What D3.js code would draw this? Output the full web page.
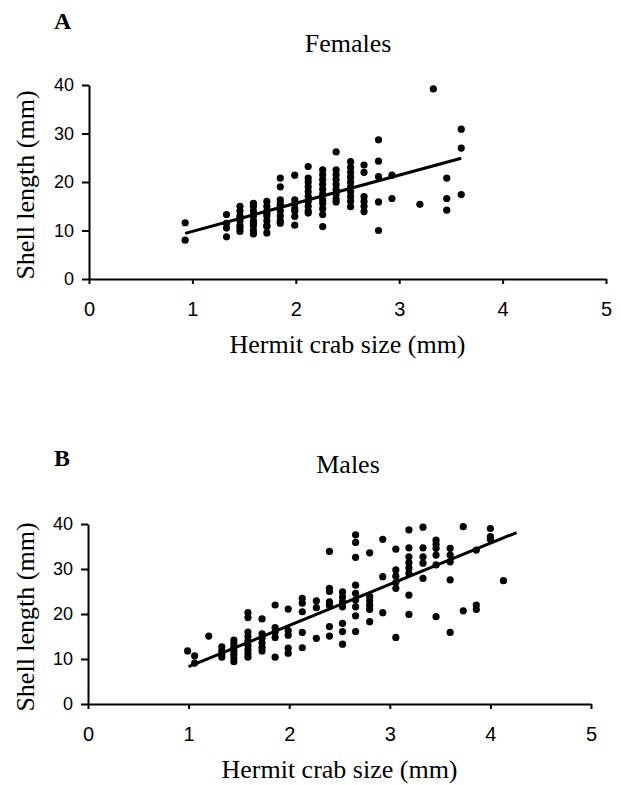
<!DOCTYPE html>
<html>
<head>
<meta charset="utf-8">
<script src="https://cdn.jsdelivr.net/npm/d3@7"></script>
<style>
  body { margin: 0; background: #fff; }
  svg { display: block; }
</style>
</head>
<body>
<svg id="chart" width="621" height="785"></svg>
<script>
// hermit crab size (mm) -> shell lengths (mm), grouped by size class
var femaleCols = [
	[0.93, [11.6, 8.0]],
	[1.33, [13.3, 11.5, 10.5, 8.7]],
	[1.46, [15, 14, 13, 12.5, 12, 11, 10.5, 9.8]],
	[1.59, [15.6, 15, 14, 13, 12, 11.5, 11, 10, 9.3]],
	[1.72, [16, 15, 14, 13.5, 13, 12, 11, 10.8, 9.5]],
	[1.85, [20.8, 19, 16.3, 15.5, 15, 14, 13, 12, 11.5]],
	[1.99, [21.4, 16.3, 15.5, 14.5, 14, 12.9, 11.1]],
	[2.12, [23.2, 20.8, 20, 19, 18, 17, 16, 15, 14, 13.6]],
	[2.26, [22.5, 21.5, 20.5, 19.5, 18.5, 17.5, 16.3, 15.6, 14.5, 13.3, 10.8]],
	[2.39, [26.2, 22.5, 21.5, 20.5, 19.5, 18.5, 17.5, 16.5, 15.9]],
	[2.53, [24.2, 23, 22, 21, 20, 19, 18, 17, 16, 14.9]],
	[2.66, [23.5, 22, 17, 16, 15, 13.9]],
	[2.80, [28.7, 24.3, 21.1, 15.9, 10]],
	[2.93, [21.4, 16.6]],
	[3.20, [15.4]],
	[3.33, [39.2]],
	[3.46, [20.8, 16.6, 14.2]],
	[3.60, [30.9, 27, 17.4]]
];

var maleCols = [
	[0.99, [11.8]],
	[1.06, [10.7, 9.1]],
	[1.20, [15.1]],
	[1.33, [12.7, 11.8, 11, 10.4]],
	[1.45, [14.2, 13.4, 12.6, 11.8, 11, 10.2, 9.4]],
	[1.59, [20.3, 19.2, 16, 15, 14, 13, 12, 11.2, 10.4]],
	[1.73, [18.9, 15.6, 14.6, 13.6, 12.6, 11.8]],
	[1.86, [22, 17, 16, 14.8, 10.4]],
	[1.99, [21.1, 16.3, 15.3, 12.4, 11.3]],
	[2.13, [23.5, 22.4, 20.5, 15.9, 12.5]],
	[2.27, [22.9, 21.4, 14.6]],
	[2.40, [33.9, 25.7, 25, 22.7, 21.9, 17.2, 15.1]],
	[2.53, [24.9, 23.8, 22.7, 21.6, 17.9, 16.1, 13.3]],
	[2.66, [37.6, 35.9, 32.6, 26.4, 24.6, 23.1, 21.6, 19.6, 16.1]],
	[2.80, [33.6, 23.9, 22.9, 21.9, 21, 18.3]],
	[2.93, [36.6, 28.3, 20.3]],
	[3.06, [34.4, 29.8, 28.4, 27, 25.7, 14.8]],
	[3.19, [38.7, 34.7, 32.7, 31.4, 30.2, 29, 24.2, 19.9]],
	[3.33, [39.3, 34.7, 32.7, 31.3, 27.9]],
	[3.46, [36.4, 35.5, 34.6, 33.1, 30.9, 19.4]],
	[3.60, [34.6, 33.1, 31.6, 27.6, 15.9]],
	[3.73, [39.4, 20.7]],
	[3.86, [34.2, 22, 21]],
	[4.00, [39, 37.2, 36.6]],
	[4.13, [27.4]]
];

// fitted lines: [size, shell] at both ends
var femaleFit = [[0.93, 9.4], [3.60, 24.9]];
var maleFit = [[1.0, 8.3], [4.26, 38.1]];

var xTicks = [0, 1, 2, 3, 4, 5];
var yTicks = [0, 10, 20, 30, 40];

var svg = d3.select("#chart");

function flatten(cols) {
	var pts = [];
	cols.forEach(function(c) {
		c[1].forEach(function(v) { pts.push([c[0], v]); });
	});
	return pts;
}

function styleAxis(size) {
	return function(a) {
		a.select(".domain").attr("stroke-width", 2);
		a.selectAll("line").attr("stroke-width", 2);
		a.selectAll("text").attr("font-family", "'Liberation Sans', Arial, sans-serif")
			.attr("font-size", size).attr("fill", "#000");
	};
}

function drawPanel(opt) {
	var x = d3.scaleLinear().domain([0, 5]).range([opt.left, opt.right]);
	var y = d3.scaleLinear().domain([0, 40]).range([opt.bottom, opt.top]);
	var g = svg.append("g");

	g.append("g")
		.attr("transform", "translate(0," + opt.bottom + ")")
		.call(d3.axisBottom(x).tickValues(xTicks).tickFormat(d3.format("d"))
			.tickSize(5).tickPadding(18).tickSizeOuter(0))
		.call(styleAxis(20));

	g.append("g")
		.attr("transform", "translate(" + opt.left + ",0)")
		.call(d3.axisLeft(y).tickValues(yTicks).tickFormat(d3.format("d"))
			.tickSize(7).tickPadding(8).tickSizeOuter(0))
		.call(styleAxis(18));

	g.selectAll("circle.pt")
		.data(flatten(opt.cols))
		.enter().append("circle")
		.attr("class", "pt")
		.attr("cx", function(d) { return x(d[0]); })
		.attr("cy", function(d) { return y(d[1]); })
		.attr("r", 3.6)
		.attr("fill", "#000");

	g.append("path")
		.datum(opt.fit)
		.attr("d", d3.line().x(function(d) { return x(d[0]); }).y(function(d) { return y(d[1]); }))
		.attr("stroke", "#000")
		.attr("stroke-width", 3)
		.attr("fill", "none");

	var serif = "'Liberation Serif', 'Times New Roman', serif";

	g.append("text")
		.attr("x", 54).attr("y", opt.letterY)
		.attr("font-family", serif).attr("font-weight", "bold").attr("font-size", 24)
		.text(opt.letter);

	g.append("text")
		.attr("x", 348).attr("y", opt.titleY)
		.attr("text-anchor", "middle")
		.attr("font-family", serif).attr("font-size", 26)
		.text(opt.title);

	g.append("text")
		.attr("x", (opt.left + opt.right) / 2).attr("y", opt.bottom + 74)
		.attr("text-anchor", "middle")
		.attr("font-family", serif).attr("font-size", 26)
		.text("Hermit crab size (mm)");

	g.append("text")
		.attr("transform", "translate(34," + ((opt.top + opt.bottom) / 2 + 3) + ") rotate(-90)")
		.attr("text-anchor", "middle")
		.attr("font-family", serif).attr("font-size", 26)
		.text("Shell length (mm)");
}

drawPanel({
	cols: femaleCols, fit: femaleFit,
	left: 89, right: 606, top: 85, bottom: 279,
	letter: "A", letterY: 29, title: "Females", titleY: 52
});

drawPanel({
	cols: maleCols, fit: maleFit,
	left: 88, right: 591, top: 524, bottom: 704,
	letter: "B", letterY: 466, title: "Males", titleY: 473
});
</script>
</body>
</html>
